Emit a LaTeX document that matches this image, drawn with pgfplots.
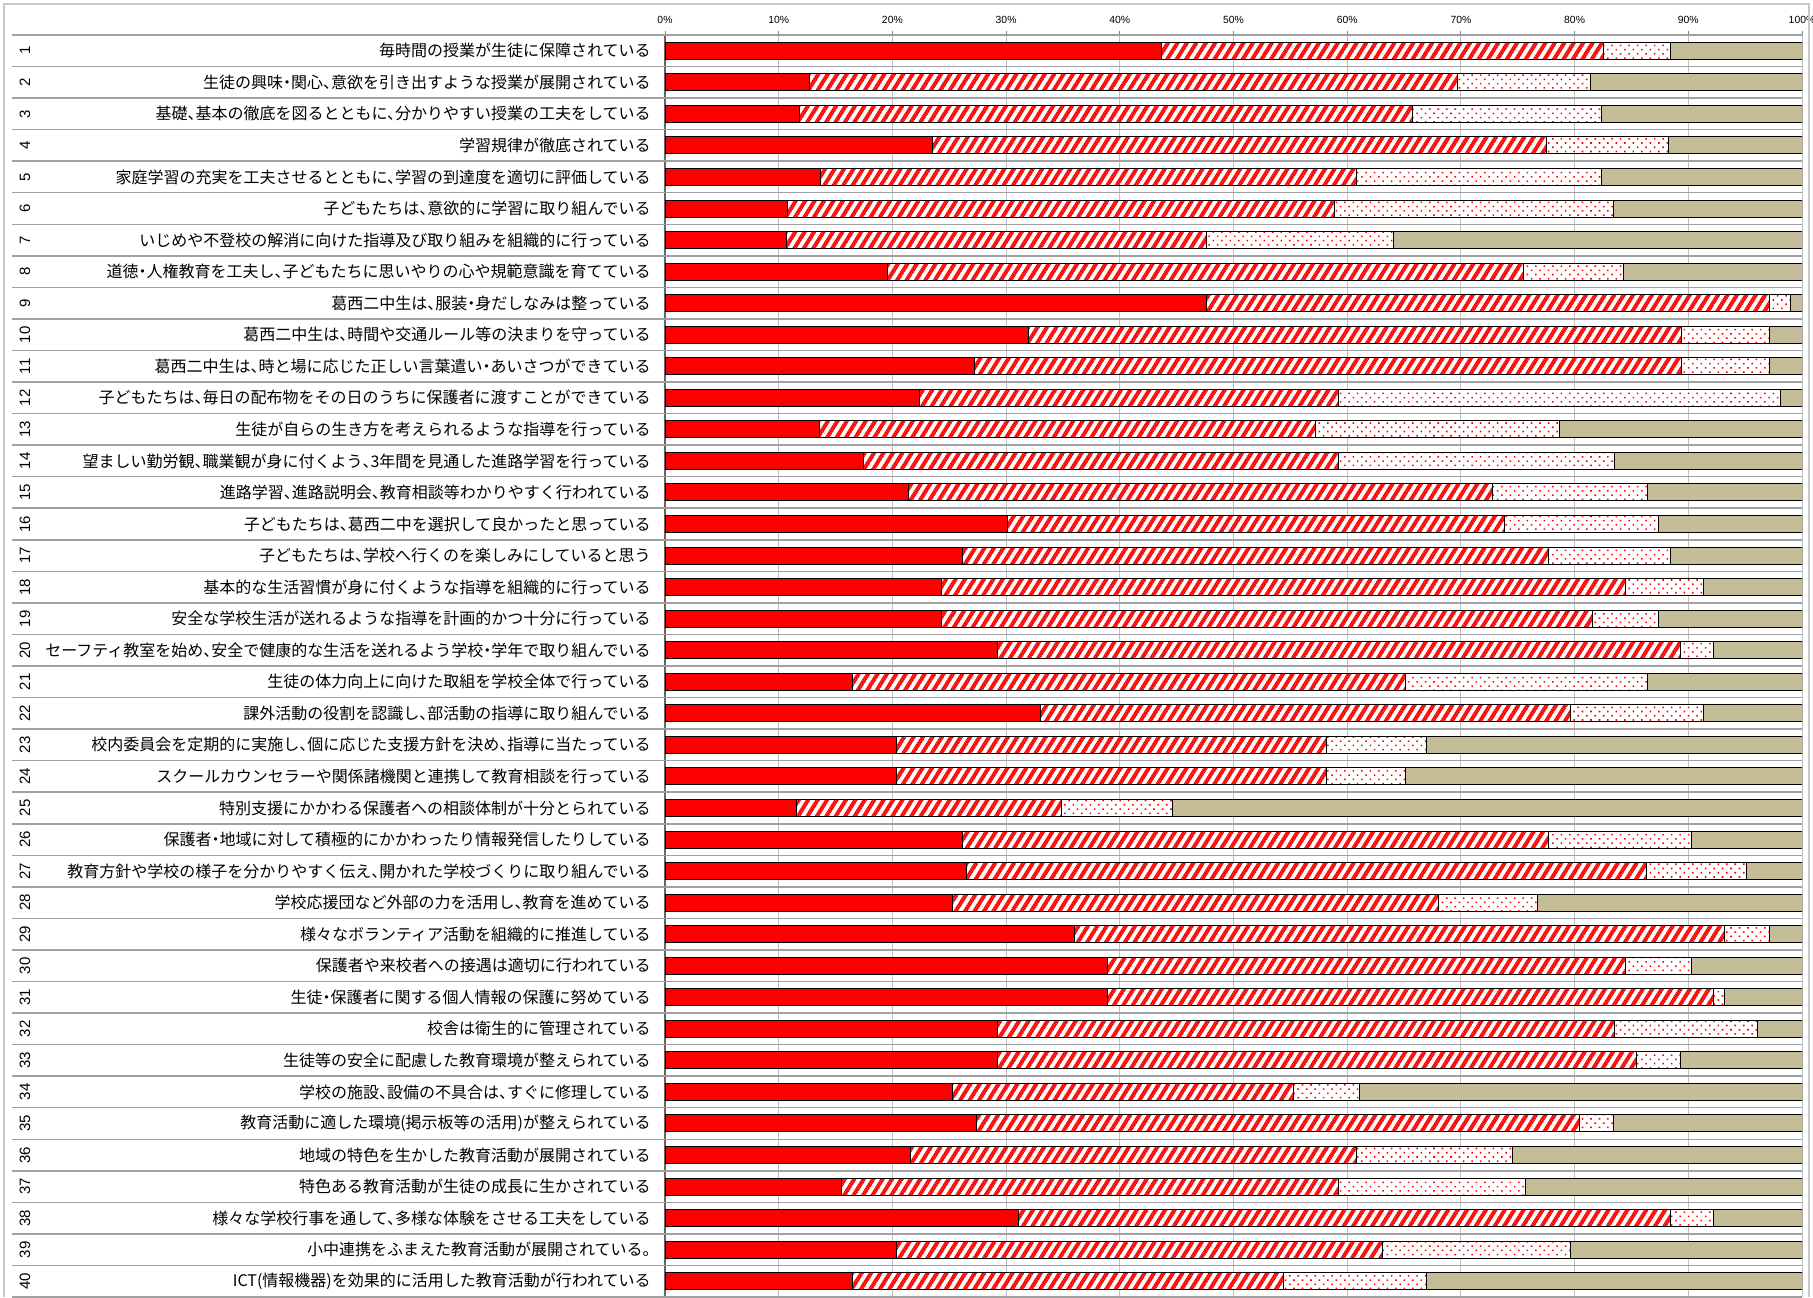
\documentclass[border=0pt]{standalone}
\usepackage{pgfplots}
\pgfplotsset{compat=1.18}
\usepackage{pgfplotstable}
\usetikzlibrary{patterns.meta}
\usepackage{fontspec}
\setmainfont{Liberation Sans}
\newfontfamily\cjk{Noto Sans CJK JP}[RawFeature=+halt]
\definecolor{tanbar}{HTML}{C4BD97}
\definecolor{gridgray}{HTML}{BFBFBF}
\definecolor{rowgray}{HTML}{A0A0A0}
\definecolor{framegray}{HTML}{C8C8C8}

\tikzdeclarepattern{
  name=redstripes, type=colored,
  bounding box={(-0.1pt,-0.1pt) and (1.1pt,4.1pt)},
  tile size={(1pt,4.0pt)},
  tile transformation={rotate=58},
  code={
    \fill[white] (-0.1pt,-0.1pt) rectangle (1.1pt,4.1pt);
    \fill[red] (-0.1pt,0pt) rectangle (1.1pt,2.0pt);
  }
}
\tikzdeclarepattern{
  name=reddots, type=colored,
  bounding box={(-0.1pt,-0.1pt) and (3.1pt,3.1pt)},
  tile size={(3.0pt,3.0pt)},
  tile transformation={rotate=45},
  code={
    \fill[white] (-0.1pt,-0.1pt) rectangle (3.1pt,3.1pt);
    \fill[red] (1.5pt,1.5pt) circle (0.55pt);
  }
}

\pgfplotstableread{
n a b c d
1 43.7 38.8 5.9 11.6
2 12.7 57.0 11.7 18.6
3 11.8 53.9 16.7 17.6
4 23.5 54.0 10.8 11.7
5 13.7 47.1 21.6 17.6
6 10.8 48.1 24.5 16.6
7 10.7 36.9 16.5 35.9
8 19.6 55.9 8.8 15.7
9 47.6 49.5 1.9 1.0
10 32.0 57.4 7.7 2.9
11 27.2 62.2 7.7 2.9
12 22.4 36.8 38.9 1.9
13 13.6 43.6 21.5 21.3
14 17.5 41.7 24.3 16.5
15 21.4 51.4 13.6 13.6
16 30.1 43.7 13.6 12.6
17 26.2 51.5 10.7 11.6
18 24.3 60.2 6.8 8.7
19 24.3 57.3 5.8 12.6
20 29.2 60.1 2.9 7.8
21 16.5 48.6 21.3 13.6
22 33.0 46.6 11.7 8.7
23 20.4 37.8 8.8 33.0
24 20.4 37.8 6.9 34.9
25 11.6 23.3 9.7 55.4
26 26.2 51.5 12.6 9.7
27 26.5 59.8 8.8 4.9
28 25.3 42.7 8.7 23.3
29 36.0 57.2 3.9 2.9
30 38.9 45.6 5.8 9.7
31 38.9 53.3 1.0 6.8
32 29.2 54.3 12.6 3.9
33 29.2 56.2 3.9 10.7
34 25.3 30.0 5.8 38.9
35 27.4 53.0 3.0 16.6
36 21.6 39.2 13.7 25.5
37 15.5 43.7 16.5 24.3
38 31.1 57.3 3.8 7.8
39 20.4 42.7 16.5 20.4
40 16.5 37.9 12.6 33.0
}\data

\begin{document}
\begin{tikzpicture}[x=1pt,y=1pt]
\useasboundingbox (0,0) rectangle (906.5,648.5);
\begin{axis}[
  at={(332.5pt,0pt)}, anchor=south west,
  scale only axis, width=568.5pt, height=631pt,
  xbar stacked, bar width=8.5pt,
  xmin=0, xmax=100, ymin=0.5, ymax=40.5,
  axis x line=top, axis y line=left,
  axis line style={-},
  x axis line style={draw=rowgray, line width=0.75pt},
  y axis line style={draw=black!60, line width=0.75pt},
  xtick={0,10,...,100},
  xticklabel={\pgfmathprintnumber{\tick}\%},
  /pgf/number format/assume math mode=true,
  xticklabel style={font=\fontsize{5.2}{6}\selectfont},
  tick align=outside, major tick length=2pt,
  x tick style={draw=black!50, line width=0.5pt},
  xmajorgrids, grid style={draw=gridgray, line width=0.5pt},
  ytick={1,...,40},
  y tick style={draw=none},
  yticklabel style={font=\cjk\fontsize{8.0}{9}\selectfont, anchor=east, inner sep=0pt, xshift=-5pt},
  yticklabels={
    {ICT(情報機器)を効果的に活用した教育活動が行われている},
    {小中連携をふまえた教育活動が展開されている。},
    {様々な学校行事を通して、多様な体験をさせる工夫をしている},
    {特色ある教育活動が生徒の成長に生かされている},
    {地域の特色を生かした教育活動が展開されている},
    {教育活動に適した環境(掲示板等の活用)が整えられている},
    {学校の施設、設備の不具合は、すぐに修理している},
    {生徒等の安全に配慮した教育環境が整えられている},
    {校舎は衛生的に管理されている},
    {生徒・保護者に関する個人情報の保護に努めている},
    {保護者や来校者への接遇は適切に行われている},
    {様々なボランティア活動を組織的に推進している},
    {学校応援団など外部の力を活用し、教育を進めている},
    {教育方針や学校の様子を分かりやすく伝え、開かれた学校づくりに取り組んでいる},
    {保護者・地域に対して積極的にかかわったり情報発信したりしている},
    {特別支援にかかわる保護者への相談体制が十分とられている},
    {スクールカウンセラーや関係諸機関と連携して教育相談を行っている},
    {校内委員会を定期的に実施し、個に応じた支援方針を決め、指導に当たっている},
    {課外活動の役割を認識し、部活動の指導に取り組んでいる},
    {生徒の体力向上に向けた取組を学校全体で行っている},
    {セーフティ教室を始め、安全で健康的な生活を送れるよう学校・学年で取り組んでいる},
    {安全な学校生活が送れるような指導を計画的かつ十分に行っている},
    {基本的な生活習慣が身に付くような指導を組織的に行っている},
    {子どもたちは、学校へ行くのを楽しみにしていると思う},
    {子どもたちは、葛西二中を選択して良かったと思っている},
    {進路学習、進路説明会、教育相談等わかりやすく行われている},
    {望ましい勤労観、職業観が身に付くよう、3年間を見通した進路学習を行っている},
    {生徒が自らの生き方を考えられるような指導を行っている},
    {子どもたちは、毎日の配布物をその日のうちに保護者に渡すことができている},
    {葛西二中生は、時と場に応じた正しい言葉遣い・あいさつができている},
    {葛西二中生は、時間や交通ルール等の決まりを守っている},
    {葛西二中生は、服装・身だしなみは整っている},
    {道徳・人権教育を工夫し、子どもたちに思いやりの心や規範意識を育てている},
    {いじめや不登校の解消に向けた指導及び取り組みを組織的に行っている},
    {子どもたちは、意欲的に学習に取り組んでいる},
    {家庭学習の充実を工夫させるとともに、学習の到達度を適切に評価している},
    {学習規律が徹底されている},
    {基礎、基本の徹底を図るとともに、分かりやすい授業の工夫をしている},
    {生徒の興味・関心、意欲を引き出すような授業が展開されている},
    {毎時間の授業が生徒に保障されている}
  },
  every axis plot/.append style={draw=black, line width=0.5pt},
]
\addplot[fill=red] table[x=a, y expr=41-\thisrow{n}] {\data};
\addplot[pattern=redstripes] table[x=b, y expr=41-\thisrow{n}] {\data};
\addplot[pattern=reddots] table[x=c, y expr=41-\thisrow{n}] {\data};
\addplot[fill=tanbar] table[x=d, y expr=41-\thisrow{n}] {\data};
\end{axis}
\foreach \k in {0,...,40} {
  \draw[rowgray, line width=0.75pt] (6,{631-\k*15.775}) -- (901,{631-\k*15.775});
}
\foreach \k in {1,...,40} {
  \node[rotate=90, font=\fontsize{7.5}{8}\selectfont, inner sep=0pt] at (12.5,{631-(\k-0.5)*15.775}) {\k};
}
\draw[framegray, line width=0.75pt] (2,0) -- (2,646.5) -- (904.5,646.5) -- (904.5,0);
\end{tikzpicture}
\end{document}
